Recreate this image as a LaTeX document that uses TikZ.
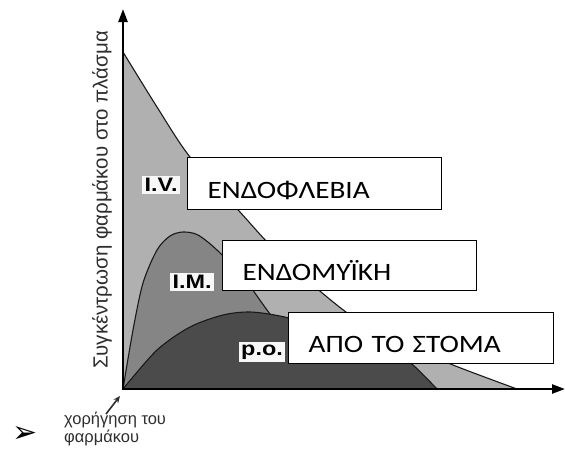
\documentclass[tikz,border=0pt]{standalone}
\usepackage{fontspec}
\setmainfont{Liberation Sans}
\newfontfamily\boxfont[FakeStretch=1.17]{Carlito}
\newfontfamily\tagfont[FakeStretch=1.2]{Liberation Sans}
\newfontfamily\symfont{DejaVu Sans}
\usepackage{tikz}
\usetikzlibrary{arrows.meta, calc}
\definecolor{ivgray}{HTML}{B0B0B0}
\definecolor{imgray}{HTML}{858585}
\definecolor{pogray}{HTML}{4B4B4B}
\definecolor{labelgray}{HTML}{2E2E2E}

\begin{document}
\begin{tikzpicture}[x=1pt, y=-1pt, >=Stealth,
    curve/.style={line width=1.1pt, draw=black!90},
    axis/.style={line width=2.4pt, line cap=rect, -{Triangle[length=13pt, width=9pt]}},
    routebox/.style={draw, line width=1.4pt, fill=white, anchor=north west, align=left,
        inner xsep=20pt, inner ysep=0pt, text height=29pt, text depth=0pt,
        font=\boxfont\fontsize{25}{29}\selectfont},
    tag/.style={fill=white!97!black, inner sep=2.5pt, font=\tagfont\bfseries\fontsize{19.5}{19.5}\selectfont}]
    \useasboundingbox (0,0) rectangle (565,451);

    % ── CURVES ────────────────────────────────────────────────────────
    \coordinate (O) at (123,389);
    \filldraw[curve, fill=ivgray] (O) -- plot[smooth] coordinates {(123,52) (157,107) (190,157) (240,212)
        (270,245) (307,280) (353,317) (400,342) (453,365) (517,389)} -- cycle;
    \filldraw[curve, fill=imgray] (O) -- plot[smooth] coordinates {(123,389) (133,330) (143,283) (157,250)
        (170,236) (183,232) (198,235) (217,250) (243,277) (267,310) (290,340) (320,368) (350,383) (380,389)} -- cycle;
    \filldraw[curve, fill=pogray] (O) -- plot[smooth] coordinates {(123,389) (157,350) (190,327) (223,315)
        (250,312) (280,316) (320,326) (360,340) (395,354) (413,365) (437,389)} -- cycle;

    % ── AXES ──────────────────────────────────────────────────────────
    \coordinate (ytop) at (123,9);
    \coordinate (xend) at (565,389);
    \draw[axis] (O) -- (ytop);
    \draw[axis] (O) -- (xend);
    \node[rotate=90, text=labelgray, font=\fontsize{20.5}{20.5}\selectfont] (ylabel) at (102,200)
        {Συγκέντρωση φαρμάκου στο πλάσμα};

    % ── ROUTE TAGS ────────────────────────────────────────────────────
    \node[tag] (iv) at (161,185) {I.V.};
    \node[tag] (im) at (192,282) {I.M.};
    \node[tag] (po) at (262,352) {p.o.};

    % ── ROUTE BOXES ───────────────────────────────────────────────────
    \node[routebox, text width=214pt, minimum height=52pt] (ivbox) at (187,157) {ΕΝΔΟΦΛΕΒΙΑ};
    \node[routebox, text width=214pt, minimum height=50pt] (imbox) at (222,240) {ΕΝΔΟΜΥΪΚΗ};
    \node[routebox, text width=225pt, minimum height=51pt] (pobox) at (288,312) {ΑΠΟ ΤΟ ΣΤΟΜΑ};

    % ── DOSE MARK ─────────────────────────────────────────────────────
    \node[anchor=north west, align=left, inner sep=0pt, text=labelgray,
        font=\fontsize{16.5}{17.5}\selectfont] (dose) at (64,412) {χορήγηση του\\φαρμάκου};
    \draw[-{Stealth[length=7pt, width=6pt]}, line width=1.6pt, labelgray]
        ($(dose.north west)+(42,2)$) -- ($(O)+(-3,7)$);
    \node[inner sep=0pt, font=\symfont\fontsize{30}{30}\selectfont] (bullet) at (25,434) {➢};
\end{tikzpicture}
\end{document}
